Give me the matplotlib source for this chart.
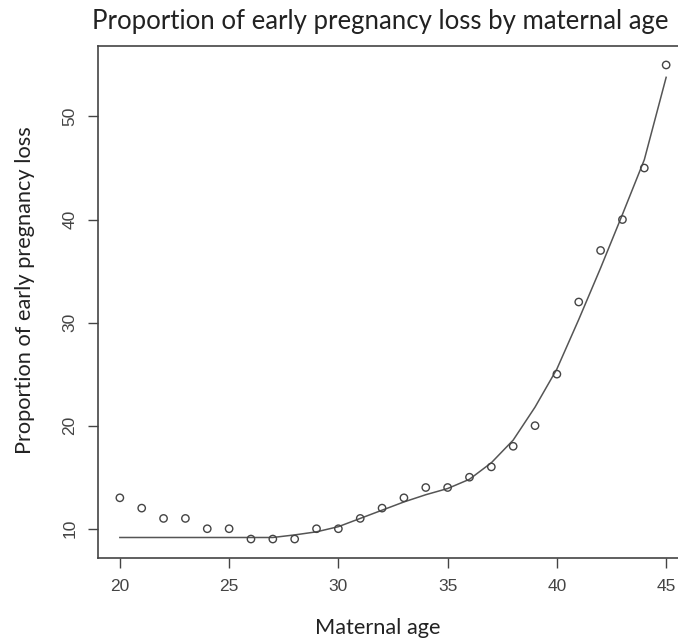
import matplotlib
matplotlib.use("Agg")
import matplotlib.pyplot as plt

# Data
ages = [20, 21, 22, 23, 24, 25, 26, 27, 28, 29, 30, 31, 32,
        33, 34, 35, 36, 37, 38, 39, 40, 41, 42, 43, 44, 45]
loss = [13, 12, 11, 11, 10, 10, 9, 9, 9, 10, 10, 11, 12,
        13, 14, 14, 15, 16, 18, 20, 25, 32, 37, 40, 45, 55]
# smoothed fit
fit = [9.15, 9.15, 9.15, 9.15, 9.15, 9.15, 9.15, 9.15, 9.4, 9.7, 10.2, 11.0, 11.8,
       12.6, 13.3, 13.9, 14.8, 16.4, 18.6, 21.8, 25.5, 30.3, 35.3, 40.5, 45.8, 53.8]
xticks = [20, 25, 30, 35, 40, 45]
yticks = [10, 20, 30, 40, 50]

W, H = 678, 641
fig = plt.figure(figsize=(W / 100, H / 100), dpi=100)
ax = fig.add_axes([98 / W, (H - 558) / H, (688 - 98) / W, (558 - 46) / H])

ax.plot(ages, fit, color="#555555", lw=1.1)
ax.scatter(ages, loss, s=28, facecolors="none", edgecolors="#444444", linewidths=1.0, zorder=3)
ax.margins(0.04)

for s in ax.spines.values():
    s.set_color("#444444")
    s.set_linewidth(1.2)
ax.spines["right"].set_visible(False)

tick_font = dict(family="Liberation Sans", size=12.5, color="#444444")
ax.set_xticks(xticks)
ax.set_xticklabels([str(t) for t in xticks], **tick_font)
ax.set_yticks(yticks)
ax.set_yticklabels([str(t) for t in yticks], rotation=90, va="center", **tick_font)
ax.tick_params(direction="out", length=7, width=1.0, color="#444444", pad=8)

lab_font = dict(family="Lato", color="#222222")
fig.text(380 / W, 1 - 21 / H, "Proportion of early pregnancy loss by maternal age",
         ha="center", va="center", fontsize=18.5, **lab_font)
fig.text(378 / W, 1 - 628 / H, "Maternal age", ha="center", va="center", fontsize=15.7, **lab_font)
fig.text(25 / W, 1 - 290 / H, "Proportion of early pregnancy loss", ha="center", va="center",
         rotation=90, fontsize=15.7, **lab_font)

fig.savefig("out.png", dpi=100)
